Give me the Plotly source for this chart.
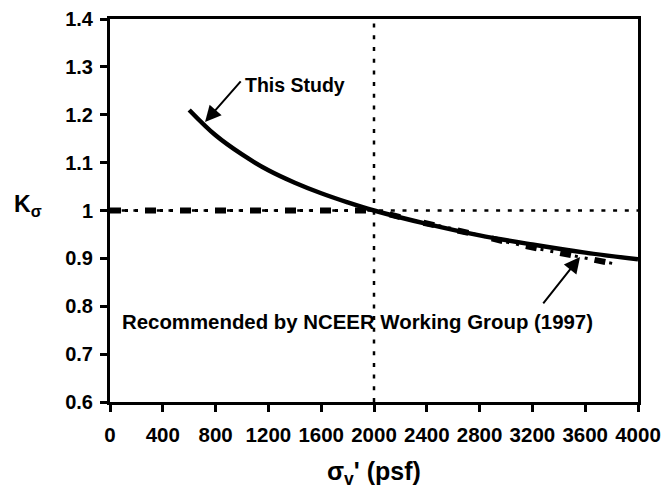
import plotly.graph_objects as go

# This study curve
study_x = [600, 800, 1000, 1200, 1400, 1600, 1800, 2000, 2400, 2800, 3200, 3600, 4000]
study_k = [1.21, 1.157, 1.117, 1.084, 1.058, 1.036, 1.017, 1.0, 0.972, 0.948, 0.929, 0.912, 0.898]

# NCEER Working Group (1997) recommendation
nceer_x = [0, 2000, 2300, 2550, 2800, 3020, 3280, 3550, 3850]
nceer_k = [1.0, 1.0, 0.979, 0.965, 0.948, 0.933, 0.918, 0.903, 0.887]

# reference lines
ref_x = [2000, 2000]
ref_x_k = [0.6, 1.4]
ref_k_x = [0, 4000]
ref_k = [1.0, 1.0]

x_ticks = list(range(0, 4001, 400))
y_ticks = [0.6, 0.7, 0.8, 0.9, 1.0, 1.1, 1.2, 1.3, 1.4]
y_ticktext = ["0.6", "0.7", "0.8", "0.9", "1", "1.1", "1.2", "1.3", "1.4"]

FONT = "Liberation Sans, Arial, sans-serif"

fig = go.Figure()

fig.add_trace(go.Scatter(x=ref_x, y=ref_x_k, mode="lines",
                         line=dict(color="black", width=2.5, dash="4px,7.7px")))
fig.add_trace(go.Scatter(x=ref_k_x, y=ref_k, mode="lines",
                         line=dict(color="black", width=2.5, dash="4px,7.7px")))

# NCEER line: heavy dashes + small dots
fig.add_trace(go.Scatter(x=nceer_x, y=nceer_k, mode="lines",
                         line=dict(color="black", width=6, dash="11px,24px")))
fig.add_trace(go.Scatter(x=nceer_x, y=nceer_k, mode="lines",
                         line=dict(color="black", width=3, dash="0px,15px,3px,7px,3px,7px")))

fig.add_trace(go.Scatter(x=study_x, y=study_k, mode="lines",
                         line=dict(color="black", width=4.5, shape="spline")))

axis_common = dict(
    showline=True, linecolor="black", linewidth=3, mirror=True,
    ticks="outside", ticklen=7, tickwidth=3, tickcolor="black",
    showgrid=False, zeroline=False, automargin=False,
)

fig.update_xaxes(range=[0, 4000], tickvals=x_ticks, ticklabelstandoff=5,
                 tickfont=dict(family=FONT, size=20.5, color="black", weight="bold"),
                 **axis_common)
fig.update_yaxes(range=[0.6, 1.4], tickvals=y_ticks, ticktext=y_ticktext,
                 ticklabelstandoff=3,
                 tickfont=dict(family=FONT, size=20, color="black", weight="bold"),
                 **axis_common)

fig.add_annotation(x=720, y=1.185, ax=37, ay=-42, text="", showarrow=True,
                   arrowhead=2, arrowsize=1.6, arrowwidth=2, arrowcolor="black")
fig.add_annotation(x=3561, y=0.903, ax=-38, ay=48, text="", showarrow=True,
                   arrowhead=2, arrowsize=1.6, arrowwidth=2, arrowcolor="black")

fig.add_annotation(x=1008, y=1.262, text="This Study", showarrow=False,
                   xanchor="left", yanchor="middle",
                   font=dict(family=FONT, size=19.5, color="black", weight="bold"))
fig.add_annotation(x=75, y=0.767, text="Recommended by NCEER Working Group (1997)",
                   showarrow=False, xanchor="left", yanchor="middle",
                   font=dict(family=FONT, size=20.4, color="black", weight="bold"))

fig.add_annotation(xref="paper", yref="y", x=-0.155, y=1.01, text="K<sub>σ</sub>",
                   showarrow=False, xanchor="center", yanchor="middle",
                   font=dict(family=FONT, size=23, color="black", weight="bold"))
fig.add_annotation(xref="paper", yref="paper", x=0.5, y=-0.185, text="σ<sub>v</sub>' (psf)",
                   showarrow=False, xanchor="center", yanchor="middle",
                   font=dict(family=FONT, size=25, color="black", weight="bold"))

# page body adds an 8px offset, so the figure is sized to fit the window
fig.update_layout(
    width=662, height=483,
    margin=dict(l=102, r=32, t=11, b=89),
    paper_bgcolor="white", plot_bgcolor="white",
    showlegend=False,
)

fig.write_html("out.html")
